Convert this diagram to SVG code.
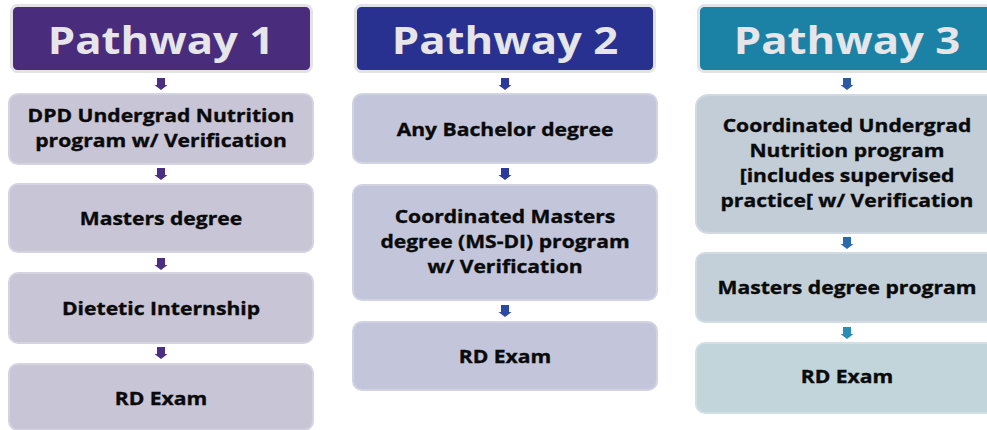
<svg xmlns="http://www.w3.org/2000/svg" width="987" height="430" viewBox="0 0 987 430">
<style>
.hdr{stroke:#e3e3e6;stroke-width:3}
.ht{font-family:"Open Sans","Liberation Sans",sans-serif;font-weight:700;font-size:38px;fill:#e6e6ea;text-anchor:middle}
.bt{font-family:"Open Sans","Liberation Sans",sans-serif;font-weight:700;font-size:18.2px;fill:#0a0a0a;stroke:#0a0a0a;stroke-width:0.35;text-anchor:middle}
.b1{fill:#c8c5d7;stroke:#d5d2e1;stroke-width:2}
.b2{fill:#c3c6da;stroke:#d1d3e3;stroke-width:2}
.b3a{fill:#c3cdd8;stroke:#d1d9e2;stroke-width:2}
.b3b{fill:#c3d0d9;stroke:#d1dbe2;stroke-width:2}
.b3c{fill:#c2d5da;stroke:#d0e0e3;stroke-width:2}
</style>
<defs>
<path id="arr" d="M-4,0 H4 V7 H6.5 L0,12 L-6.5,7 H-4 Z"/>
</defs>
<rect width="987" height="430" fill="#ffffff"/>
<g id="connectors">
<use href="#arr" x="161" y="78" fill="#4b2e82"/>
<use href="#arr" x="161" y="168" fill="#4b2e82"/>
<use href="#arr" x="161" y="258" fill="#4b2e82"/>
<use href="#arr" x="161" y="347" fill="#4b2e82"/>
<use href="#arr" x="505" y="78" fill="#2b3a9a"/>
<use href="#arr" x="505" y="168" fill="#2b3a9a"/>
<use href="#arr" x="505" y="305" fill="#2b4aa2"/>
<use href="#arr" x="847" y="78" fill="#2a5aa6"/>
<use href="#arr" x="847" y="237" fill="#2a6aac"/>
<use href="#arr" x="847" y="327" fill="#2a8db6"/>
</g>
<g id="p1-header"><rect class="hdr" x="11.5" y="5.5" width="300" height="66" rx="6" fill="#4a2c7c"/><text class="ht" transform="translate(161 54) scale(1.15 1)">Pathway 1</text></g>
<g id="p1-dpd"><rect class="b1" x="9" y="94" width="304" height="70" rx="9"/><text class="bt" transform="translate(161 122) scale(1.16 1)">DPD Undergrad Nutrition</text><text class="bt" transform="translate(161 147) scale(1.16 1)">program w/ Verification</text></g>
<g id="p1-masters"><rect class="b1" x="9" y="184" width="304" height="68" rx="9"/><text class="bt" transform="translate(161 225) scale(1.16 1)">Masters degree</text></g>
<g id="p1-internship"><rect class="b1" x="9" y="273" width="304" height="70" rx="9"/><text class="bt" transform="translate(161 315) scale(1.16 1)">Dietetic Internship</text></g>
<g id="p1-rd"><rect class="b1" x="9" y="364" width="304" height="66" rx="9"/><text class="bt" transform="translate(161 405) scale(1.16 1)">RD Exam</text></g>
<g id="p2-header"><rect class="hdr" x="355.5" y="5.5" width="299" height="66" rx="6" fill="#283190"/><text class="ht" transform="translate(505 54) scale(1.15 1)">Pathway 2</text></g>
<g id="p2-bachelor"><rect class="b2" x="353" y="94" width="304" height="69" rx="9"/><text class="bt" transform="translate(505 136) scale(1.16 1)">Any Bachelor degree</text></g>
<g id="p2-msdi"><rect class="b2" x="353" y="185" width="304" height="115" rx="9"/><text class="bt" transform="translate(505 223) scale(1.16 1)">Coordinated Masters</text><text class="bt" transform="translate(505 248) scale(1.16 1)">degree (MS-DI) program</text><text class="bt" transform="translate(505 273) scale(1.16 1)">w/ Verification</text></g>
<g id="p2-rd"><rect class="b2" x="353" y="322" width="304" height="68" rx="9"/><text class="bt" transform="translate(505 363) scale(1.16 1)">RD Exam</text></g>
<g id="p3-header"><rect class="hdr" x="698.5" y="5.5" width="300" height="66" rx="6" fill="#1b82a6"/><text class="ht" transform="translate(847 54) scale(1.15 1)">Pathway 3</text></g>
<g id="p3-cup"><rect class="b3a" x="696" y="95" width="304" height="138" rx="12"/><text class="bt" transform="translate(847 132) scale(1.16 1)">Coordinated Undergrad</text><text class="bt" transform="translate(847 157) scale(1.16 1)">Nutrition program</text><text class="bt" transform="translate(847 182) scale(1.16 1)">[includes supervised</text><text class="bt" transform="translate(847 207) scale(1.16 1)">practice[ w/ Verification</text></g>
<g id="p3-masters"><rect class="b3b" x="696" y="253" width="304" height="69" rx="9"/><text class="bt" transform="translate(847 294) scale(1.16 1)">Masters degree program</text></g>
<g id="p3-rd"><rect class="b3c" x="696" y="343" width="304" height="70" rx="9"/><text class="bt" transform="translate(847 383) scale(1.16 1)">RD Exam</text></g>
</svg>
